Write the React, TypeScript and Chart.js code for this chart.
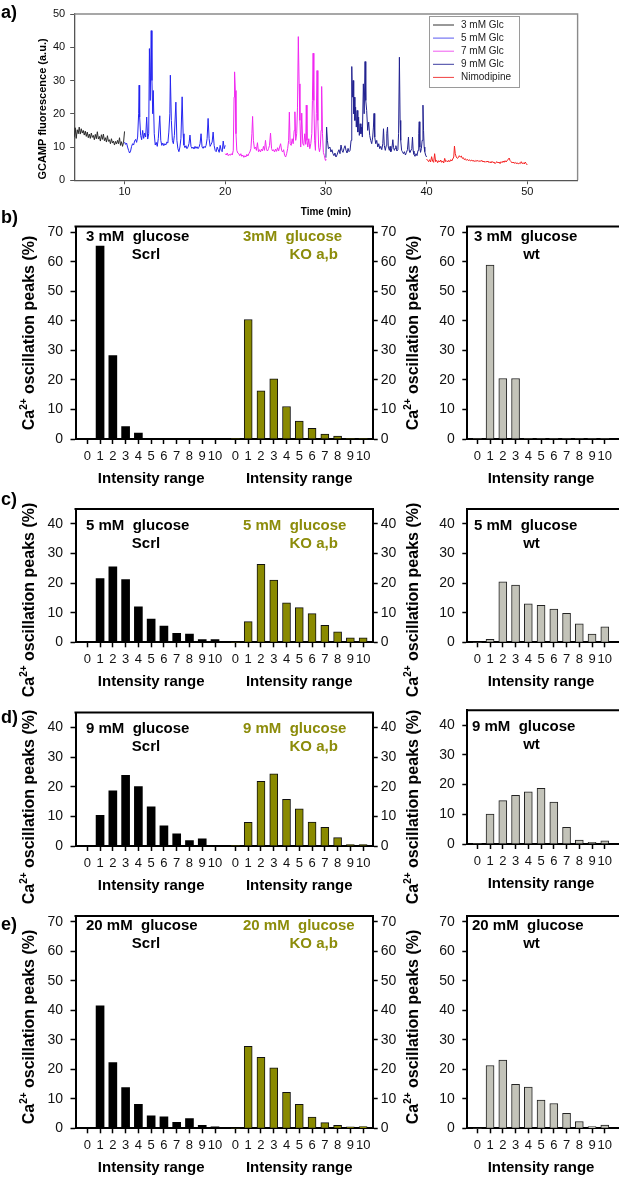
import React, { useEffect, useRef } from 'react';
import { Chart, registerables } from 'chart.js';

Chart.register(...registerables);

const FONT = "'Liberation Sans', Arial, Helvetica, sans-serif";
Chart.defaults.font.family = FONT;
Chart.defaults.color = '#111';

const PAGE_W = 619;
const PAGE_H = 1178;

// ---------------- Panel a data ----------------
const TRACE_LABELS = ['3 mM Glc', '5 mM Glc', '7 mM Glc', '9 mM Glc', 'Nimodipine'];
const TIME_TICKS = [10, 20, 30, 40, 50];
const GCAMP_TICKS = [0, 10, 20, 30, 40, 50];
const TRACE_Y_TITLE = 'GCAMP fluorescence (a.u.)';
const TRACE_X_TITLE = 'Time (min)';

const TRACE_3MM: [number, number][] = [
  [5.0, 13.0], [5.1, 15.8], [5.2, 12.6], [5.3, 15.2], [5.4, 14.0], [5.5, 16.0], [5.6, 13.9], [5.7, 15.5],
  [5.8, 14.2], [5.9, 15.0], [6.0, 13.6], [6.1, 14.8], [6.2, 13.2], [6.3, 14.5], [6.4, 12.8], [6.5, 13.9],
  [6.6, 12.6], [6.7, 14.2], [6.8, 12.9], [6.9, 13.5], [7.0, 12.2], [7.1, 13.8], [7.2, 12.5], [7.3, 14.6],
  [7.4, 12.4], [7.5, 13.2], [7.6, 11.8], [7.7, 13.7], [7.8, 12.3], [7.9, 13.9], [8.0, 11.9], [8.1, 12.8],
  [8.2, 11.5], [8.3, 13.4], [8.4, 11.7], [8.5, 12.2], [8.6, 11.0], [8.7, 12.5], [8.8, 11.2], [8.9, 11.8],
  [9.0, 10.6], [9.1, 11.7], [9.2, 10.9], [9.3, 12.0], [9.4, 11.0], [9.5, 12.8], [9.6, 10.5], [9.7, 11.6],
  [9.8, 10.2], [9.9, 11.4], [10.0, 14.7],
];
const TRACE_5MM: [number, number][] = [
  [10.0, 11.5], [10.1, 10.8], [10.2, 11.2], [10.3, 10.0], [10.4, 9.0], [10.5, 8.2], [10.6, 8.8], [10.7, 10.2],
  [10.8, 11.0], [10.9, 10.6], [11.0, 11.8], [11.1, 12.3], [11.2, 11.4], [11.3, 13.0], [11.4, 20.0], [11.45, 28.6],
  [11.5, 19.0], [11.6, 13.5], [11.7, 12.2], [11.8, 15.0], [11.9, 12.6], [12.0, 14.2], [12.1, 13.0], [12.2, 19.0],
  [12.3, 12.4], [12.4, 14.0], [12.47, 39.6], [12.55, 24.0], [12.65, 45.0], [12.72, 30.0], [12.8, 20.0], [12.85, 27.0],
  [12.95, 14.0], [13.05, 10.6], [13.15, 11.4], [13.25, 10.2], [13.35, 12.5], [13.5, 19.4], [13.6, 12.0], [13.7, 10.5],
  [13.8, 11.2], [13.9, 10.4], [14.0, 11.0], [14.1, 10.6], [14.2, 11.5], [14.3, 11.2], [14.4, 14.5], [14.5, 20.0],
  [14.55, 31.6], [14.65, 18.0], [14.75, 12.0], [14.85, 11.0], [14.95, 13.5], [15.1, 23.5], [15.2, 12.0], [15.3, 9.5],
  [15.4, 8.6], [15.5, 10.0], [15.6, 12.5], [15.72, 25.1], [15.82, 14.0], [15.9, 10.6], [16.0, 9.8], [16.1, 10.4],
  [16.2, 9.5], [16.3, 10.0], [16.4, 11.0], [16.5, 13.6], [16.6, 10.2], [16.7, 9.6], [16.8, 10.0], [16.9, 9.4],
  [17.0, 10.2], [17.1, 9.6], [17.2, 10.1], [17.3, 9.5], [17.4, 10.0], [17.5, 11.0], [17.6, 14.0], [17.7, 10.0],
  [17.8, 9.6], [17.9, 10.2], [18.0, 9.8], [18.1, 10.5], [18.2, 12.5], [18.3, 18.6], [18.4, 12.5], [18.5, 10.2],
  [18.6, 10.8], [18.7, 11.5], [18.8, 14.5], [18.9, 10.5], [19.0, 9.0], [19.1, 8.6], [19.2, 10.0], [19.3, 9.2],
  [19.4, 8.4], [19.5, 10.5], [19.6, 9.0], [19.7, 8.6], [19.8, 11.8], [19.9, 9.5], [20.0, 10.5],
];
const TRACE_7MM: [number, number][] = [
  [20.0, 8.0], [20.1, 7.6], [20.2, 8.2], [20.3, 7.4], [20.4, 7.8], [20.5, 7.5], [20.6, 8.0], [20.7, 7.6],
  [20.8, 9.0], [20.88, 25.0], [20.93, 32.6], [21.0, 27.0], [21.07, 14.0], [21.15, 9.0], [21.25, 8.2], [21.35, 8.0],
  [21.45, 7.4], [21.55, 8.0], [21.65, 7.2], [21.75, 7.6], [21.85, 6.9], [21.95, 7.4], [22.05, 7.0], [22.15, 7.8],
  [22.25, 7.3], [22.35, 8.0], [22.45, 8.5], [22.55, 9.5], [22.65, 14.0], [22.72, 19.2], [22.8, 12.0], [22.9, 9.5],
  [23.0, 10.0], [23.1, 9.0], [23.2, 11.3], [23.3, 8.6], [23.4, 9.2], [23.5, 8.5], [23.6, 9.4], [23.7, 8.8],
  [23.8, 10.2], [23.9, 9.0], [24.0, 12.0], [24.1, 9.2], [24.2, 8.8], [24.3, 9.5], [24.4, 10.5], [24.5, 14.2],
  [24.6, 9.6], [24.7, 8.8], [24.8, 9.2], [24.9, 8.5], [25.0, 9.4], [25.1, 8.7], [25.2, 9.8], [25.3, 8.8],
  [25.4, 10.0], [25.5, 11.0], [25.6, 9.0], [25.7, 8.5], [25.8, 9.2], [25.9, 7.5], [26.0, 7.0], [26.1, 8.0],
  [26.2, 9.5], [26.3, 12.0], [26.37, 20.5], [26.45, 11.0], [26.55, 10.5], [26.65, 12.5], [26.75, 11.0], [26.85, 15.0],
  [26.92, 20.6], [27.0, 12.0], [27.1, 14.0], [27.18, 22.0], [27.26, 43.2], [27.34, 29.0], [27.42, 18.0], [27.5, 10.0],
  [27.6, 20.2], [27.7, 11.0], [27.8, 10.5], [27.9, 14.0], [28.0, 10.8], [28.05, 22.6], [28.12, 12.0], [28.2, 10.0],
  [28.3, 12.5], [28.4, 9.5], [28.5, 11.0], [28.6, 14.0], [28.66, 24.0], [28.73, 38.2], [28.8, 24.0], [28.88, 12.0],
  [28.96, 9.0], [29.05, 20.0], [29.12, 33.0], [29.2, 18.0], [29.28, 10.0], [29.36, 8.6], [29.44, 9.8], [29.52, 15.0],
  [29.58, 28.2], [29.66, 14.0], [29.75, 8.4], [29.85, 7.4], [29.95, 6.0], [30.0, 6.4],
];
const TRACE_9MM: [number, number][] = [
  [30.0, 6.8], [30.07, 16.0], [30.15, 12.0], [30.25, 9.5], [30.4, 10.0], [30.5, 8.5], [30.6, 9.2], [30.7, 8.0],
  [30.8, 7.4], [30.9, 8.2], [31.0, 7.0], [31.1, 7.6], [31.2, 8.5], [31.3, 9.2], [31.4, 8.0], [31.5, 10.6],
  [31.6, 9.0], [31.7, 8.4], [31.8, 9.6], [31.9, 10.4], [32.0, 9.0], [32.1, 8.2], [32.2, 9.6], [32.3, 8.6],
  [32.4, 9.0], [32.5, 12.0], [32.57, 34.2], [32.63, 25.0], [32.7, 30.0], [32.76, 20.0], [32.82, 25.0], [32.88, 18.0],
  [32.95, 22.0], [33.02, 16.0], [33.1, 21.0], [33.17, 14.5], [33.25, 19.0], [33.32, 13.5], [33.4, 17.0], [33.48, 14.0],
  [33.55, 16.0], [33.62, 13.0], [33.72, 29.0], [33.8, 20.0], [33.89, 35.7], [33.96, 24.0], [34.05, 21.0], [34.15, 15.0],
  [34.25, 17.5], [34.35, 13.5], [34.45, 12.0], [34.55, 11.0], [34.65, 13.0], [34.72, 16.0], [34.78, 20.1], [34.85, 13.0],
  [34.95, 11.0], [35.05, 12.0], [35.15, 10.0], [35.25, 11.0], [35.35, 9.5], [35.45, 10.2], [35.55, 9.2], [35.65, 11.0],
  [35.72, 15.5], [35.8, 10.5], [35.9, 9.0], [36.0, 10.5], [36.05, 14.1], [36.12, 16.0], [36.2, 10.0], [36.3, 9.0],
  [36.37, 10.2], [36.45, 8.6], [36.55, 9.5], [36.65, 12.2], [36.72, 9.8], [36.8, 9.0], [36.87, 9.6], [36.95, 10.4],
  [37.05, 8.8], [37.15, 9.2], [37.22, 14.0], [37.3, 37.0], [37.37, 18.0], [37.43, 12.0], [37.52, 9.0], [37.6, 8.6],
  [37.7, 8.0], [37.8, 8.6], [37.9, 7.6], [38.0, 8.4], [38.1, 9.2], [38.2, 13.0], [38.27, 9.0], [38.35, 8.4],
  [38.45, 9.0], [38.53, 9.5], [38.6, 13.0], [38.67, 8.8], [38.75, 7.8], [38.85, 7.2], [38.95, 8.0], [39.05, 7.4],
  [39.15, 9.0], [39.22, 14.0], [39.27, 17.6], [39.33, 10.0], [39.4, 8.4], [39.48, 9.5], [39.56, 12.0], [39.64, 22.6],
  [39.7, 15.0], [39.76, 10.0], [39.82, 8.6], [39.9, 7.6], [40.0, 7.0],
];
const TRACE_NIMO: [number, number][] = [
  [40.0, 6.4], [40.1, 6.0], [40.2, 5.6], [40.3, 6.2], [40.4, 5.5], [40.5, 7.1], [40.6, 5.8], [40.7, 5.4],
  [40.8, 8.0], [40.9, 5.6], [41.0, 6.0], [41.1, 5.3], [41.2, 5.9], [41.3, 5.5], [41.4, 6.1], [41.5, 5.4],
  [41.6, 5.8], [41.7, 5.2], [41.8, 6.6], [41.9, 5.6], [42.0, 5.9], [42.1, 5.5], [42.2, 6.0], [42.3, 5.6],
  [42.4, 6.2], [42.5, 5.8], [42.6, 6.4], [42.7, 7.0], [42.77, 10.3], [42.85, 8.0], [42.95, 7.0], [43.05, 6.6],
  [43.15, 6.8], [43.25, 7.4], [43.35, 7.0], [43.45, 7.3], [43.55, 6.6], [43.65, 6.8], [43.75, 6.2], [43.85, 6.5],
  [43.95, 6.0], [44.05, 6.3], [44.15, 5.9], [44.25, 6.2], [44.35, 5.8], [44.5, 6.1], [44.6, 5.7], [44.7, 6.0],
  [44.8, 5.6], [44.9, 6.0], [45.0, 5.7], [45.1, 6.0], [45.2, 5.6], [45.3, 5.9], [45.4, 5.7], [45.5, 6.0],
  [45.6, 5.5], [45.7, 5.8], [45.8, 5.4], [45.9, 5.7], [46.0, 5.5], [46.1, 5.8], [46.2, 5.3], [46.3, 5.6],
  [46.4, 5.2], [46.5, 5.7], [46.6, 5.3], [46.7, 5.5], [46.8, 5.0], [46.9, 5.4], [47.0, 5.6], [47.1, 5.2],
  [47.2, 5.5], [47.3, 5.0], [47.4, 5.6], [47.5, 5.3], [47.6, 5.8], [47.7, 5.4], [47.8, 5.9], [47.9, 5.5],
  [48.0, 6.0], [48.1, 6.2], [48.2, 6.7], [48.3, 5.9], [48.4, 5.6], [48.5, 5.2], [48.6, 5.5], [48.7, 5.1],
  [48.8, 5.4], [48.9, 5.0], [49.0, 5.3], [49.1, 4.9], [49.2, 5.2], [49.3, 5.0], [49.4, 5.6], [49.5, 5.0],
  [49.6, 5.3], [49.7, 4.9], [49.8, 5.5], [49.9, 5.0], [50.0, 4.6],
];

// ---------------- Panels b-e data ----------------
const INTENSITY_LABELS = ['0', '1', '2', '3', '4', '5', '6', '7', '8', '9', '10'];
const Y_TICKS_70 = [0, 10, 20, 30, 40, 50, 60, 70];
const Y_TICKS_40 = [0, 10, 20, 30, 40];
const PANEL_LABELS = ['b)', 'c)', 'd)', 'e)'];
const GLUCOSE_SCRL = ['3 mM  glucose', '5 mM  glucose', '9 mM  glucose', '20 mM  glucose'];
const GLUCOSE_KO = ['3mM  glucose', '5 mM  glucose', '9 mM  glucose', '20 mM  glucose'];
const GLUCOSE_WT = ['3 mM  glucose', '5 mM  glucose', '9 mM  glucose', '20 mM  glucose'];
const NAME_SCRL = 'Scrl';
const NAME_KO = 'KO a,b';
const NAME_WT = 'wt';
const X_TITLE = 'Intensity range';
const Y_TITLE_MAIN = 'Ca';
const Y_TITLE_SUP = '2+';
const Y_TITLE_REST = ' oscillation peaks (%)';

const SCRL_3MM = [0, 65.4, 28.3, 4.2, 2.0, 0, 0, 0, 0, 0, 0];
const KO_3MM = [0, 40.5, 16.3, 20.4, 11.0, 6.1, 3.6, 1.7, 1.0, 0, 0];
const WT_3MM = [0, 58.9, 20.5, 20.5, 0, 0, 0, 0, 0, 0, 0];

const SCRL_5MM = [0, 21.5, 25.5, 21.2, 12.0, 7.8, 5.5, 3.0, 2.8, 0.9, 0.9];
const KO_5MM = [0, 7.0, 26.3, 21.0, 13.3, 11.7, 9.7, 5.7, 3.5, 1.5, 1.5];
const WT_5MM = [0, 1.0, 20.4, 19.3, 13.0, 12.5, 11.2, 9.8, 6.2, 2.8, 5.2];

const SCRL_9MM = [0, 10.3, 18.6, 23.8, 20.0, 13.2, 6.8, 4.1, 1.8, 2.4, 0];
const KO_9MM = [0, 8.0, 21.8, 24.3, 15.7, 12.5, 8.1, 6.3, 2.8, 0.5, 0.5];
const WT_9MM = [0, 10.1, 14.6, 16.4, 17.6, 18.7, 14.1, 5.6, 1.3, 0.6, 1.1];

const SCRL_20MM = [0, 41.5, 22.3, 13.8, 8.1, 4.2, 3.9, 2.0, 3.3, 1.0, 0.5];
const KO_20MM = [0, 27.8, 24.1, 20.5, 12.2, 8.1, 3.8, 1.9, 1.0, 0.5, 0.6];
const WT_20MM = [0, 21.3, 23.1, 14.9, 14.0, 9.6, 8.4, 5.1, 2.3, 0.6, 1.1];

const SCRL_SERIES = [SCRL_3MM, SCRL_5MM, SCRL_9MM, SCRL_20MM];
const KO_SERIES = [KO_3MM, KO_5MM, KO_9MM, KO_20MM];
const WT_SERIES = [WT_3MM, WT_5MM, WT_9MM, WT_20MM];

// ---------------- Layout / style ----------------
const TRACE_COLORS = ['#2a2a2a', '#2424f0', '#f026f0', '#222290', '#f42020'];
const LEGEND_COLORS = ['#333333', '#5a5af0', '#f05af0', '#3c3ca0', '#f04040'];
const OLIVE_BAR = '#8a8a00';
const OLIVE_TEXT = '#8c8c0a';
const WT_FILL = '#c3c3b9';

const A_BOX = { left: 74.2, right: 577.6, top: 14, bottom: 180.3 };
const L_BOX = { left: 75.5, right: 372.7 };
const L_ZERO_PX = 87.3;
const L_UNIT = 12.77;
const GROUP2_OFFSET = 11.6;
const W_LEFT = 467.3;
const W_ZERO_PX = 477.3;
const W_UNIT = 12.75;
const W_CANVAS = 660;
const W_RIGHT = 650;
const X_AXIS_H = 30;
const BAR_PX = 8;

const ROWS = [
  { top: 226.5, bottom: 439, max: 72, ticks: Y_TICKS_70, labelY: 218.3, titleY: 333, line1: 236.5, wtTop: 226.5, wtBottom: 439, wtLine1: 236.7, wtX: 474 },
  { top: 509, bottom: 642.3, max: 45, ticks: Y_TICKS_40, labelY: 500, titleY: 600, line1: 525.7, wtTop: 509, wtBottom: 642.3, wtLine1: 525.7, wtX: 474 },
  { top: 712.5, bottom: 846, max: 45, ticks: Y_TICKS_40, labelY: 718.3, titleY: 807, line1: 729.3, wtTop: 710.3, wtBottom: 844, wtLine1: 727.3, wtX: 472 },
  { top: 916, bottom: 1128.3, max: 72, ticks: Y_TICKS_70, labelY: 925, titleY: 1027, line1: 926, wtTop: 916, wtBottom: 1128.3, wtLine1: 926, wtX: 472 },
];

// ---------------- drawing helpers ----------------
function drawText(ctx: any, text: string, x: number, y: number, size: number, opts: any = {}) {
  ctx.save();
  ctx.font = `${opts.bold ? 'bold ' : ''}${size}px ${FONT}`;
  ctx.fillStyle = opts.color || '#000';
  ctx.textAlign = opts.align || 'left';
  ctx.textBaseline = 'middle';
  ctx.translate(x, y);
  if (opts.rotate) ctx.rotate(opts.rotate);
  ctx.fillText(text, 0, 0);
  ctx.restore();
}

function drawCaTitle(ctx: any, cx: number, cy: number, size: number) {
  ctx.save();
  ctx.translate(cx, cy);
  ctx.rotate(-Math.PI / 2);
  const main = `bold ${size}px ${FONT}`;
  const sup = `bold ${Math.round(size * 0.62)}px ${FONT}`;
  ctx.font = main;
  const wCa = ctx.measureText(Y_TITLE_MAIN).width;
  const wRest = ctx.measureText(Y_TITLE_REST).width;
  ctx.font = sup;
  const wSup = ctx.measureText(Y_TITLE_SUP).width;
  let x = -(wCa + wSup + wRest) / 2;
  const base = size * 0.36;
  ctx.fillStyle = '#000';
  ctx.textAlign = 'left';
  ctx.textBaseline = 'alphabetic';
  ctx.font = main;
  ctx.fillText(Y_TITLE_MAIN, x, base);
  x += wCa;
  ctx.font = sup;
  ctx.fillText(Y_TITLE_SUP, x, base - size * 0.45);
  x += wSup;
  ctx.font = main;
  ctx.fillText(Y_TITLE_REST, x, base);
  ctx.restore();
}

function fixedTicks(values: number[]) {
  return (scale: any) => {
    scale.ticks = values.map((v) => ({ value: v }));
  };
}

// ---------------- chart builders ----------------
function buildTraceChart() {
  const segments = [TRACE_3MM, TRACE_5MM, TRACE_7MM, TRACE_9MM, TRACE_NIMO];
  const axisGrid = { display: true, drawOnChartArea: false, drawTicks: true, tickLength: 4, tickWidth: 1, tickColor: '#555', offset: false };
  return {
    type: 'line',
    data: {
      datasets: segments.map((seg, i) => ({
        label: TRACE_LABELS[i],
        data: seg.map(([x, y]) => ({ x, y })),
        borderColor: TRACE_COLORS[i],
        borderWidth: 1,
        pointRadius: 0,
        tension: 0,
        fill: false,
      })),
    },
    options: {
      responsive: false,
      maintainAspectRatio: false,
      animation: false,
      events: [],
      layout: { padding: { left: 0, top: A_BOX.top, right: PAGE_W - A_BOX.right, bottom: PAGE_H - A_BOX.bottom - 45 } },
      plugins: { legend: { display: false }, tooltip: { enabled: false } },
      scales: {
        x: {
          type: 'linear', min: 5, max: 55, offset: false,
          afterBuildTicks: fixedTicks(TIME_TICKS),
          afterFit: (s: any) => { s.height = 45; },
          ticks: { autoSkip: false, maxRotation: 0, font: { size: 11 }, color: '#111', padding: 1 },
          grid: axisGrid,
          border: { display: true, color: '#555', width: 1.3 },
        },
        y: {
          type: 'linear', min: 0, max: 50,
          afterBuildTicks: fixedTicks(GCAMP_TICKS),
          afterFit: (s: any) => { s.width = A_BOX.left; },
          ticks: { font: { size: 11 }, color: '#111', padding: 5, callback: (v: any) => String(v) },
          grid: axisGrid,
          border: { display: true, color: '#555', width: 1.3 },
        },
      },
    },
    plugins: [
      {
        id: 'traceDecor',
        afterDraw(chart: any) {
          const ctx = chart.ctx;
          const { left, right, top, bottom } = chart.chartArea;
          ctx.save();
          ctx.strokeStyle = '#8a8a8a';
          ctx.lineWidth = 1.4;
          ctx.beginPath();
          ctx.moveTo(left, top);
          ctx.lineTo(right, top);
          ctx.lineTo(right, bottom);
          ctx.stroke();
          // legend
          ctx.strokeStyle = '#9a9a9a';
          ctx.lineWidth = 1;
          ctx.strokeRect(429.5, 16.5, 90, 71);
          chart.data.datasets.forEach((d: any, k: number) => {
            const y = 25 + k * 13.1;
            ctx.strokeStyle = LEGEND_COLORS[k];
            ctx.lineWidth = 1;
            ctx.beginPath();
            ctx.moveTo(433, y);
            ctx.lineTo(454, y);
            ctx.stroke();
            drawText(ctx, d.label, 461, y, 10, { color: '#222' });
          });
          ctx.restore();
          drawText(ctx, 'a)', 1, 13, 18, { bold: true });
          drawText(ctx, TRACE_Y_TITLE, 43.4, 109, 11, { bold: true, align: 'center', rotate: -Math.PI / 2 });
          drawText(ctx, TRACE_X_TITLE, (left + right) / 2, 212.7, 10, { bold: true, align: 'center' });
        },
      },
    ],
  };
}

const barGrid = { display: true, drawOnChartArea: false, drawTicks: true, tickLength: 5, tickWidth: 1.5, tickColor: '#000', offset: false };
const barBorder = { display: true, color: '#000', width: 2 };

function barX(min: number, max: number, positions: number[], labels: string[]) {
  return {
    type: 'linear', min, max, offset: false,
    afterBuildTicks: fixedTicks(positions),
    afterFit: (s: any) => { s.height = X_AXIS_H; },
    ticks: { autoSkip: false, maxRotation: 0, minRotation: 0, font: { size: 13 }, color: '#111', padding: 4.5, callback: (_v: any, i: number) => labels[i] },
    grid: barGrid,
    border: barBorder,
  };
}

function barY(position: string, max: number, ticks: number[], width: number, padding: number) {
  return {
    type: 'linear', position, min: 0, max,
    afterBuildTicks: fixedTicks(ticks),
    afterFit: (s: any) => { s.width = width; },
    ticks: { font: { size: 14 }, color: '#111', padding, callback: (v: any) => String(v) },
    grid: barGrid,
    border: barBorder,
  };
}

const outlined = (ctx: any) => (ctx.raw && ctx.raw.y > 0 ? 1 : 0);

function topLine(chart: any) {
  const ctx = chart.ctx;
  const { left, right, top } = chart.chartArea;
  ctx.save();
  ctx.strokeStyle = '#000';
  ctx.lineWidth = 2;
  ctx.beginPath();
  ctx.moveTo(left - 1, top);
  ctx.lineTo(right + 1, top);
  ctx.stroke();
  ctx.restore();
}

function buildLeftChart(r: number) {
  const row = ROWS[r];
  const g1 = INTENSITY_LABELS.map((_, i) => i);
  const g2 = INTENSITY_LABELS.map((_, i) => i + GROUP2_OFFSET);
  const xMin = (L_BOX.left - L_ZERO_PX) / L_UNIT;
  const xMax = (L_BOX.right - L_ZERO_PX) / L_UNIT;
  return {
    type: 'bar',
    data: {
      datasets: [
        {
          label: NAME_SCRL,
          data: SCRL_SERIES[r].map((v, i) => ({ x: g1[i], y: v })),
          backgroundColor: '#000',
          borderColor: '#000',
          borderWidth: 0,
          barThickness: BAR_PX,
          grouped: false,
        },
        {
          label: NAME_KO,
          data: KO_SERIES[r].map((v, i) => ({ x: g2[i], y: v })),
          backgroundColor: OLIVE_BAR,
          borderColor: '#111',
          borderWidth: outlined,
          borderSkipped: 'start',
          barThickness: BAR_PX,
          grouped: false,
        },
      ],
    },
    options: {
      responsive: false,
      maintainAspectRatio: false,
      animation: false,
      events: [],
      layout: { padding: { left: 0, right: 0, top: row.top, bottom: PAGE_H - row.bottom - X_AXIS_H } },
      plugins: { legend: { display: false }, tooltip: { enabled: false } },
      scales: {
        x: barX(xMin, xMax, [...g1, ...g2], [...INTENSITY_LABELS, ...INTENSITY_LABELS]),
        y: barY('left', row.max, row.ticks, L_BOX.left, 7.5),
        y2: barY('right', row.max, row.ticks, PAGE_W - L_BOX.right, 3),
      },
    },
    plugins: [
      {
        id: 'leftDecor',
        afterDraw(chart: any) {
          const ctx = chart.ctx;
          topLine(chart);
          const xs = chart.scales.x;
          drawText(ctx, PANEL_LABELS[r], 1, row.labelY, 18, { bold: true });
          drawCaTitle(ctx, 28.5, row.titleY, 16);
          drawText(ctx, GLUCOSE_SCRL[r], 86, row.line1, 15, { bold: true });
          drawText(ctx, NAME_SCRL, 146, row.line1 + 18, 15, { bold: true, align: 'center' });
          drawText(ctx, GLUCOSE_KO[r], 243, row.line1, 15, { bold: true, color: OLIVE_TEXT });
          drawText(ctx, NAME_KO, 289.5, row.line1 + 18, 15, { bold: true, color: OLIVE_TEXT });
          drawText(ctx, X_TITLE, xs.getPixelForValue(g1[5]), row.bottom + 39.5, 15, { bold: true, align: 'center' });
          drawText(ctx, X_TITLE, xs.getPixelForValue(g2[5]), row.bottom + 39.5, 15, { bold: true, align: 'center' });
        },
      },
    ],
  };
}

function buildWtChart(r: number) {
  const row = ROWS[r];
  const g = INTENSITY_LABELS.map((_, i) => i);
  const xMin = (W_LEFT - W_ZERO_PX) / W_UNIT;
  const xMax = (W_RIGHT - W_ZERO_PX) / W_UNIT;
  return {
    type: 'bar',
    data: {
      datasets: [
        {
          label: NAME_WT,
          data: WT_SERIES[r].map((v, i) => ({ x: g[i], y: v })),
          backgroundColor: WT_FILL,
          borderColor: '#222',
          borderWidth: outlined,
          borderSkipped: 'start',
          barThickness: BAR_PX,
          grouped: false,
        },
      ],
    },
    options: {
      responsive: false,
      maintainAspectRatio: false,
      animation: false,
      events: [],
      layout: { padding: { left: 0, right: W_CANVAS - W_RIGHT, top: row.wtTop, bottom: PAGE_H - row.wtBottom - X_AXIS_H } },
      plugins: { legend: { display: false }, tooltip: { enabled: false } },
      scales: {
        x: barX(xMin, xMax, g, INTENSITY_LABELS),
        y: barY('left', row.max, row.ticks, W_LEFT, 7.5),
      },
    },
    plugins: [
      {
        id: 'wtDecor',
        afterDraw(chart: any) {
          const ctx = chart.ctx;
          topLine(chart);
          const xs = chart.scales.x;
          drawCaTitle(ctx, 412, row.titleY, 16);
          drawText(ctx, GLUCOSE_WT[r], row.wtX, row.wtLine1, 15, { bold: true });
          drawText(ctx, NAME_WT, 531.5, row.wtLine1 + 18, 15, { bold: true, align: 'center' });
          drawText(ctx, X_TITLE, xs.getPixelForValue(g[5]), row.wtBottom + 39.5, 15, { bold: true, align: 'center' });
        },
      },
    ],
  };
}

function Layer({ width, build }: { width: number; build: () => any }) {
  const ref = useRef<HTMLCanvasElement | null>(null);
  useEffect(() => {
    if (!ref.current) return;
    const chart = new Chart(ref.current, build());
    return () => chart.destroy();
  }, []);
  return (
    <canvas
      ref={ref}
      width={width}
      height={PAGE_H}
      style={{ position: 'absolute', left: 0, top: 0, width, height: PAGE_H }}
    />
  );
}

export default function App() {
  return (
    <div style={{ position: 'absolute', left: 0, top: 0, width: PAGE_W, height: PAGE_H, overflow: 'hidden', background: '#fff' }}>
      <Layer width={PAGE_W} build={buildTraceChart} />
      {ROWS.map((_, i) => (
        <Layer key={'left' + i} width={PAGE_W} build={() => buildLeftChart(i)} />
      ))}
      {ROWS.map((_, i) => (
        <Layer key={'wt' + i} width={W_CANVAS} build={() => buildWtChart(i)} />
      ))}
    </div>
  );
}
